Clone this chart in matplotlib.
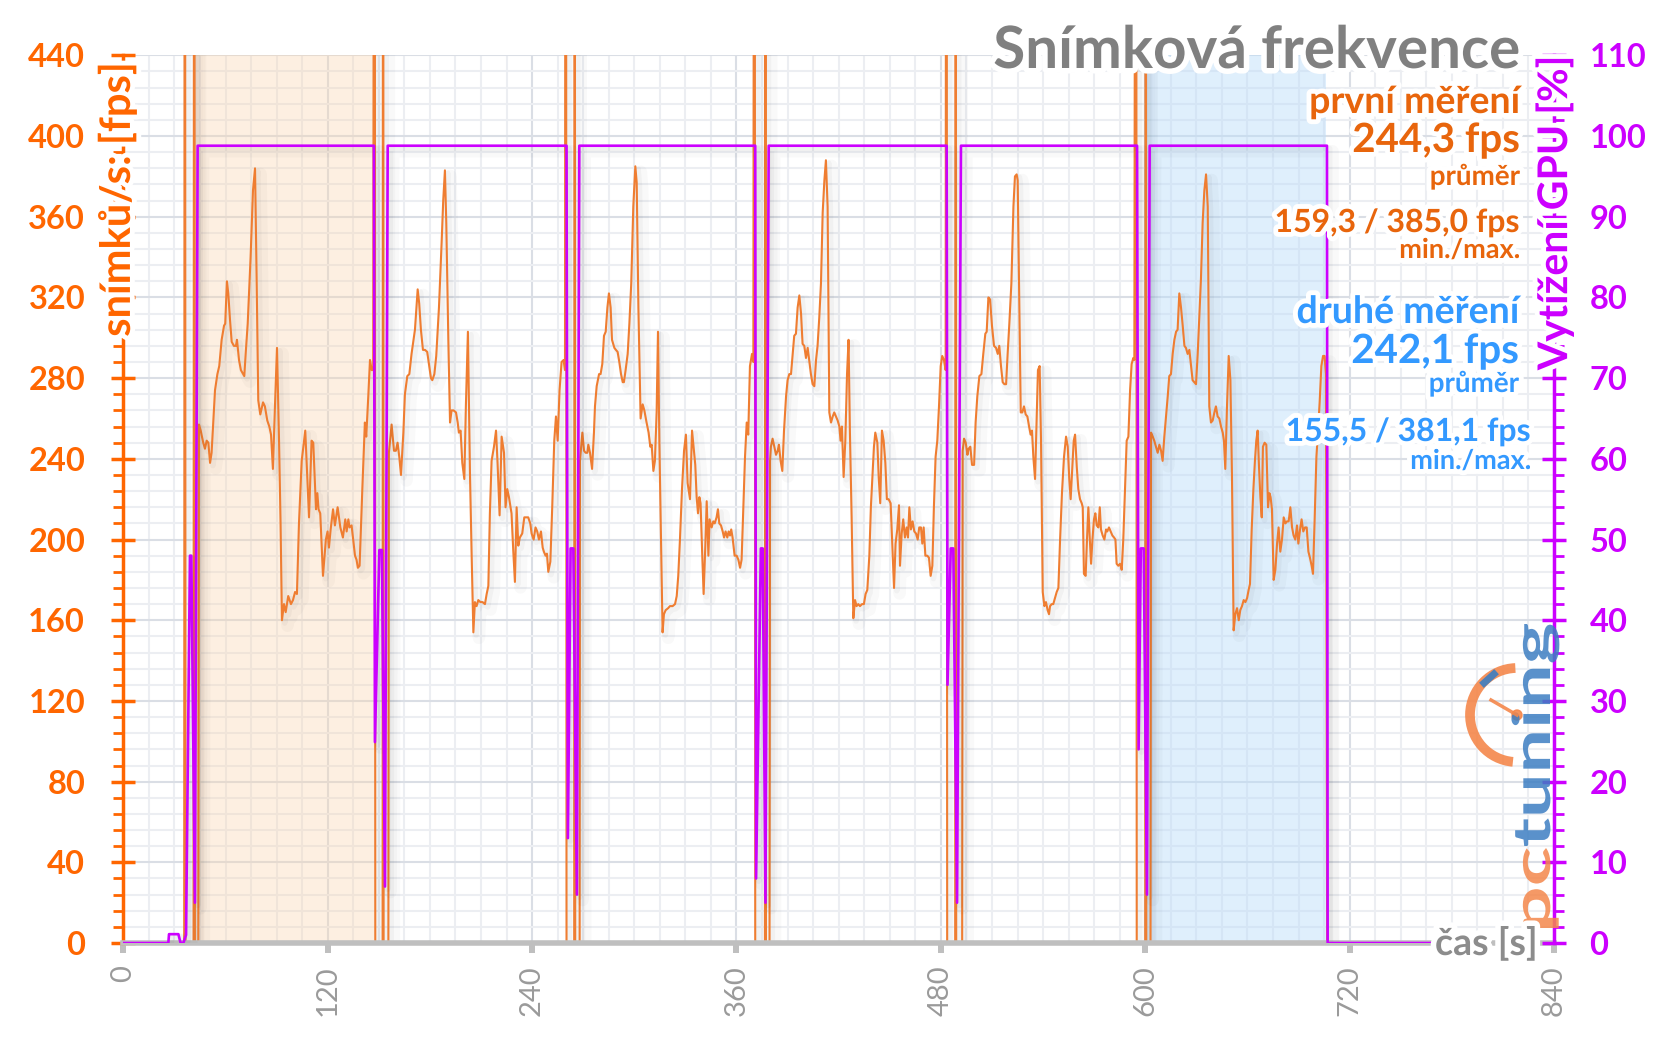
import matplotlib
matplotlib.use("Agg")
import matplotlib.pyplot as plt
import matplotlib.patheffects as pe
from matplotlib.patches import Arc, Circle, PathPatch
from matplotlib.textpath import TextPath
from matplotlib.font_manager import FontProperties
from matplotlib.transforms import Affine2D
from matplotlib.ticker import MultipleLocator
import numpy as np

plt.rcParams['font.family'] = ['Lato', 'DejaVu Sans']

# ---------------- data ----------------
# orange fps trace, split into load gaps and the six benchmark passes (time [s], fps)
gap0 = [(0, 0), (35.7, 0), (36.1, 900), (36.5, 0), (41.2, 0), (41.6, 900), (42.0, 0), (44.0, 0)]
run1 = [(44.4, 257), (45.4, 254), (46.9, 248), (47.9, 245), (48.9, 249), (49.9, 248), (50.9, 238), (51.8, 243),
        (53.8, 274), (55.2, 282), (56.3, 286), (57.7, 299), (59.1, 306), (59.8, 307), (60.8, 328), (61.6, 322),
        (62.6, 309), (63.6, 298), (64.9, 296), (66.1, 296), (66.7, 299), (67.9, 289), (69.0, 284), (71.0, 281),
        (71.8, 292), (73.0, 307), (74.7, 340), (76.1, 373), (77.3, 384), (78.2, 332), (79.2, 269), (80.4, 262),
        (82.0, 268), (83.1, 266), (84.5, 259), (85.7, 256), (86.7, 252), (87.8, 235), (89.0, 266), (90.2, 295),
        (91.4, 249), (92.3, 208), (93.1, 160), (94.3, 168), (95.3, 164), (96.8, 172), (98.4, 168), (99.6, 170),
        (100.8, 174), (101.9, 173), (103.1, 208), (104.7, 239), (106.8, 254), (109.0, 211), (110.5, 249),
        (111.5, 248), (113.1, 215), (113.9, 223), (114.6, 215), (115.6, 213), (117.2, 182), (118.9, 200),
        (119.9, 204), (120.7, 196), (121.7, 205), (123.1, 215), (124.2, 207), (125.8, 216), (127.4, 206),
        (128.9, 201), (130.3, 210), (131.1, 204), (132.1, 210), (132.8, 206), (134.0, 207), (136.0, 192),
        (136.9, 190), (137.7, 186), (138.7, 187), (140.3, 225), (141.8, 258), (142.6, 251), (143.8, 271),
        (144.8, 289), (145.8, 284), (146.7, 284)]
gap1 = [(147.5, 900), (147.9, 0), (152.2, 0), (152.5, 900), (152.8, 0), (155.6, 0)]
run2 = [(155.9, 243), (157.5, 257), (158.9, 244), (160.0, 244), (161.0, 248), (162.0, 241), (163.0, 232),
        (164.4, 253), (165.3, 272), (166.7, 281), (167.9, 282), (169.2, 292), (170.2, 298), (171.2, 304),
        (172.8, 324), (173.7, 317), (174.7, 304), (175.9, 294), (177.1, 294), (178.4, 293), (179.6, 286),
        (180.6, 280), (181.4, 279), (182.6, 282), (183.7, 291), (185.3, 315), (186.9, 348), (187.8, 368),
        (188.8, 383), (189.6, 357), (190.8, 299), (191.8, 258), (192.7, 264), (193.9, 264), (195.3, 263),
        (196.3, 258), (197.0, 253), (198.0, 254), (199.0, 238), (200.2, 230), (201.1, 266), (202.3, 303),
        (203.5, 233), (204.5, 192), (205.5, 154), (206.4, 169), (207.4, 167), (208.4, 170), (209.6, 169),
        (210.9, 169), (212.3, 168), (213.3, 173), (214.3, 177), (215.2, 213), (216.2, 239), (217.6, 246),
        (218.8, 254), (219.7, 238), (220.9, 212), (222.1, 251), (223.5, 243), (224.4, 216), (225.4, 225),
        (226.4, 221), (227.9, 213), (228.9, 195), (229.9, 179), (230.9, 216), (231.9, 197), (232.8, 201),
        (234.2, 203), (235.4, 211), (236.8, 211), (237.7, 211), (238.9, 208), (239.7, 203), (240.9, 200),
        (242.0, 206), (243.0, 204), (244.0, 200), (245.2, 204), (246.2, 196), (246.9, 194), (247.9, 192),
        (248.7, 193), (249.5, 184), (250.7, 189), (251.8, 216), (253.0, 249), (254.0, 261), (255.0, 249),
        (256.1, 274), (257.3, 288), (258.5, 289), (259.3, 284)]
gap2 = [(259.8, 900), (260.2, 0), (264.7, 0), (265.0, 900), (265.3, 0), (267.9, 0)]
run3 = [(268.1, 239), (269.5, 253), (270.5, 244), (271.4, 243), (272.4, 243), (273.0, 247), (274.0, 243),
        (275.2, 235), (276.3, 253), (276.9, 266), (277.9, 276), (279.3, 282), (280.2, 282), (281.2, 287),
        (282.2, 301), (283.2, 303), (284.2, 315), (285.1, 322), (286.1, 315), (286.9, 299), (288.3, 295),
        (289.2, 294), (290.2, 293), (291.2, 288), (292.2, 282), (293.2, 278), (293.9, 278), (294.9, 284),
        (296.1, 292), (297.1, 307), (298.2, 327), (299.4, 365), (300.6, 385), (301.4, 377), (302.4, 315),
        (303.7, 260), (304.9, 267), (305.9, 264), (307.2, 258), (308.4, 253), (309.4, 246), (310.2, 247),
        (311.2, 234), (312.1, 239), (313.1, 263), (313.9, 303), (314.7, 249), (315.7, 200), (316.6, 154),
        (317.4, 163), (318.4, 165), (319.9, 166), (320.9, 167), (322.5, 167), (323.9, 168), (324.9, 172),
        (325.8, 182), (326.8, 200), (328.0, 225), (329.2, 244), (330.3, 252), (331.3, 228), (332.7, 220),
        (333.9, 254), (334.8, 246), (335.8, 237), (336.6, 221), (337.4, 213), (338.2, 221), (338.9, 218),
        (339.9, 192), (340.7, 173), (341.7, 197), (342.5, 219), (343.5, 192), (344.2, 210), (345.4, 206),
        (346.4, 209), (347.2, 208), (348.3, 211), (349.1, 215), (349.9, 208), (350.9, 207), (351.9, 204),
        (352.7, 201), (353.6, 204), (354.6, 201), (355.4, 204), (356.2, 202), (356.9, 205), (357.7, 201),
        (358.9, 192), (360.1, 192), (361.1, 190), (362.1, 186), (363.0, 190), (364.0, 216), (365.0, 241),
        (366.0, 258), (366.9, 252), (367.9, 286), (369.1, 292), (369.9, 288)]
gap3 = [(370.6, 900), (371.0, 0), (376.7, 0), (377.0, 900), (377.3, 0), (379.4, 0)]
run4 = [(379.7, 239), (380.2, 246), (381.2, 250), (382.2, 246), (383.2, 242), (384.2, 244), (384.9, 247),
        (385.9, 239), (386.9, 234), (387.9, 254), (389.1, 271), (390.0, 279), (391.0, 282), (392.0, 282),
        (393.0, 292), (393.9, 301), (394.9, 302), (395.9, 315), (396.9, 321), (397.9, 312), (398.8, 297),
        (399.8, 296), (400.8, 290), (401.8, 295), (402.7, 289), (403.7, 282), (404.7, 277), (405.7, 276),
        (406.7, 289), (407.6, 296), (408.6, 310), (409.6, 327), (410.6, 362), (411.6, 378), (412.5, 388),
        (413.5, 365), (414.5, 263), (415.5, 258), (416.5, 261), (417.4, 263), (418.4, 261), (419.4, 259),
        (420.4, 256), (421.1, 249), (421.9, 256), (422.9, 231), (423.9, 249), (424.9, 282), (425.8, 299),
        (426.6, 253), (427.6, 211), (428.6, 161), (429.6, 170), (430.5, 167), (431.5, 168), (432.5, 167),
        (433.7, 168), (434.8, 168), (435.8, 173), (436.8, 175), (438.0, 192), (438.9, 216), (439.9, 233),
        (440.7, 246), (441.5, 253), (442.7, 248), (443.5, 231), (444.4, 218), (445.4, 254), (446.4, 249),
        (447.4, 238), (448.3, 220), (449.3, 220), (450.5, 218), (451.5, 197), (452.5, 176), (453.4, 198),
        (454.4, 205), (455.4, 217), (456.0, 187), (457.0, 203), (457.9, 210), (458.9, 201), (459.9, 206),
        (460.7, 201), (461.5, 216), (462.4, 205), (463.4, 209), (464.4, 204), (465.4, 203), (466.4, 200),
        (467.3, 206), (468.3, 206), (469.1, 198), (469.9, 206), (470.9, 192), (472.0, 192), (473.0, 191),
        (474.0, 182), (475.0, 187), (475.9, 216), (476.9, 241), (477.9, 249), (478.9, 266), (479.9, 286),
        (480.8, 291), (481.8, 289), (482.8, 284)]
gap4 = [(483.3, 900), (483.7, 0), (488.4, 0), (488.7, 900), (489.0, 0), (492.5, 0)]
run5 = [(492.8, 244), (493.6, 250), (494.6, 248), (495.6, 242), (496.3, 245), (497.3, 246), (498.3, 237),
        (499.5, 237), (500.4, 258), (501.4, 271), (502.6, 281), (503.8, 282), (504.9, 292), (506.1, 302),
        (506.9, 303), (507.9, 320), (508.9, 319), (510.0, 306), (511.2, 296), (512.4, 295), (513.4, 292),
        (514.3, 296), (515.3, 286), (516.3, 278), (517.3, 277), (518.3, 277), (519.2, 292), (520.2, 307),
        (521.4, 327), (522.6, 365), (523.5, 380), (524.5, 381), (525.1, 378), (526.1, 315), (526.9, 263),
        (527.8, 263), (528.8, 266), (529.8, 262), (530.8, 261), (531.8, 256), (532.7, 252), (533.5, 254),
        (534.3, 241), (535.3, 230), (536.3, 263), (537.0, 284), (538.0, 286), (538.8, 249), (539.8, 174),
        (540.8, 167), (541.7, 169), (542.7, 165), (543.5, 163), (544.1, 167), (545.1, 168), (546.0, 168),
        (547.0, 171), (548.0, 174), (549.0, 176), (550.0, 200), (551.1, 223), (552.3, 241), (553.5, 251),
        (554.5, 246), (555.4, 230), (556.2, 220), (557.2, 236), (558.0, 249), (558.8, 252), (559.8, 236),
        (560.7, 225), (561.7, 220), (562.7, 218), (563.3, 216), (564.0, 183), (565.0, 182), (565.8, 200),
        (566.6, 216), (567.4, 201), (568.2, 188), (569.0, 200), (569.9, 210), (570.7, 213), (571.5, 207),
        (572.5, 206), (573.3, 216), (574.0, 205), (575.0, 202), (576.0, 200), (577.0, 205), (577.7, 204),
        (578.7, 206), (579.7, 204), (580.7, 202), (581.7, 201), (582.5, 200), (583.2, 188), (584.2, 187),
        (585.2, 188), (586.2, 185), (587.1, 200), (588.1, 225), (589.1, 249), (590.1, 251), (591.1, 274),
        (592.0, 287), (593.0, 290), (593.6, 289)]
gap5 = [(594.6, 900), (595.0, 0), (600.0, 0), (600.3, 900), (600.6, 0), (603.1, 0)]
run6 = [(603.4, 253), (604.4, 251), (605.3, 249), (606.3, 246), (607.3, 243), (608.3, 247), (609.3, 244),
        (610.2, 239), (611.2, 251), (612.2, 261), (613.2, 271), (614.1, 281), (615.1, 282), (616.1, 292),
        (617.1, 299), (618.1, 303), (619.0, 304), (620.0, 322), (621.0, 315), (622.0, 306), (623.0, 296),
        (623.9, 295), (624.9, 292), (625.9, 294), (626.9, 286), (627.8, 279), (628.8, 278), (629.8, 277),
        (630.8, 292), (631.8, 312), (632.7, 329), (633.7, 357), (634.7, 373), (635.7, 381), (636.7, 365),
        (637.6, 266), (638.6, 258), (639.6, 259), (640.6, 263), (641.5, 266), (642.5, 261), (643.5, 260),
        (644.5, 256), (645.5, 253), (646.2, 249), (647.0, 235), (648.0, 266), (649.0, 291), (650.0, 279),
        (650.9, 233), (651.9, 155), (652.9, 163), (653.9, 166), (654.9, 160), (655.8, 165), (656.8, 167),
        (657.8, 170), (658.8, 169), (659.8, 171), (660.7, 175), (661.5, 178), (662.5, 205), (663.5, 225),
        (664.4, 239), (665.2, 249), (666.0, 254), (666.8, 236), (667.6, 221), (668.4, 211), (669.1, 246),
        (670.1, 248), (671.1, 247), (672.1, 216), (672.9, 223), (673.6, 221), (674.4, 215), (675.4, 180),
        (676.4, 185), (677.4, 198), (678.3, 206), (679.3, 194), (680.3, 200), (681.3, 211), (682.3, 208),
        (683.2, 209), (684.2, 209), (685.2, 216), (686.2, 206), (687.1, 202), (688.1, 200), (689.1, 207),
        (689.9, 198), (690.9, 205), (691.8, 210), (692.8, 204), (693.8, 206), (694.8, 206), (695.8, 194),
        (696.7, 191), (697.7, 187), (698.5, 183), (699.5, 211), (700.5, 241), (701.4, 253), (702.4, 268),
        (703.4, 286), (704.4, 291), (705.3, 291), (706.1, 282)]
tail = [(706.8, 0), (775, 0)]

# purple GPU load trace (time [s], %)
gpu = [(0, 0), (26.4, 0), (26.8, 1.1), (32.3, 1.1), (33.6, 0), (35.2, 0), (36.8, 1.0), (39.1, 48.0),
       (39.9, 48.0), (42.0, 5.0), (43.6, 98.8),
       (147.1, 98.8), (147.7, 24.9), (150.3, 48.7), (151.8, 48.7), (153.6, 7.0), (155.2, 98.8),
       (260.2, 98.8), (261.0, 13.0), (262.6, 48.9), (264.2, 48.9), (266.3, 6.0), (267.7, 98.8),
       (371.0, 98.8), (371.5, 8.0), (374.3, 48.9), (375.4, 48.9), (377.0, 5.0), (378.9, 98.8),
       (483.4, 98.8), (483.9, 32.0), (485.8, 48.9), (487.3, 48.9), (489.5, 5.0), (491.8, 98.8),
       (595.2, 98.8), (596.1, 24.0), (597.4, 48.9), (599.1, 48.9), (601.0, 6.0), (602.6, 98.8),
       (706.7, 98.8), (707.1, 0), (775, 0)]

# measured intervals (shaded)
first_span = (40.8, 147.3)
second_span = (599.5, 706.0)

title = 'Snímková frekvence'
first_lines = ['první měření', '244,3 fps', 'průměr', '159,3 / 385,0 fps', 'min./max.']
second_lines = ['druhé měření', '242,1 fps', 'průměr', '155,5 / 381,1 fps', 'min./max.']

fps_pts = np.array(gap0 + run1 + gap1 + run2 + gap2 + run3 + gap3 + run4 + gap4 + run5 + gap5 + run6 + tail)
gpu_pts = np.array(gpu)

ORANGE = '#ff6600'
LINE_OR = '#ef7d31'
PURPLE = '#cc00ff'
BLUE = '#3399ff'
TXT_OR = '#e8650c'

# ---------------- figure ----------------
fig = plt.figure(figsize=(16.56, 10.44), dpi=100)
ax = fig.add_axes([0.0745, 0.0967, 0.8639, 0.8503])
ax2 = ax.twinx()

ax.set_xlim(0, 840)
ax.set_ylim(0, 440)
ax2.set_ylim(0, 110)

ax.xaxis.set_major_locator(MultipleLocator(120))
ax.xaxis.set_minor_locator(MultipleLocator(15))
ax.yaxis.set_major_locator(MultipleLocator(40))
ax.yaxis.set_minor_locator(MultipleLocator(8))
ax2.yaxis.set_major_locator(MultipleLocator(10))
ax2.yaxis.set_minor_locator(MultipleLocator(2))

ax.set_axisbelow(True)
ax.grid(which='major', color='#dadee5', lw=1.5)
ax.grid(which='minor', color='#eceef2', lw=1.5)

ax.axvspan(*first_span, facecolor='#fad3ab', alpha=0.35, lw=0, zorder=1)
ax.axvspan(*second_span, facecolor='#b9dcfa', alpha=0.45, lw=0, zorder=1)
# soft inner shadow on the left edge of both bands
for span, col in [(first_span, '#c8a888'), (second_span, '#8fb0cc')]:
    for k in range(6):
        ax.axvspan(span[0], span[0] + 1.2 * (k + 1), facecolor=col, alpha=0.035, lw=0, zorder=1)

shadow = [pe.SimpleLineShadow(offset=(4, -4), shadow_color='black', alpha=0.025, linewidth=9),
          pe.SimpleLineShadow(offset=(2, -2), shadow_color='black', alpha=0.03, linewidth=4),
          pe.Normal()]
ax.plot(fps_pts[:, 0], fps_pts[:, 1], color=LINE_OR, lw=1.5, zorder=3, path_effects=shadow)
ax2.plot(gpu_pts[:, 0], gpu_pts[:, 1], color=PURPLE, lw=1.9, zorder=3, path_effects=shadow)

# spines
for s in ['top', 'right']:
    ax.spines[s].set_visible(False)
for s in ['top', 'left', 'bottom']:
    ax2.spines[s].set_visible(False)
ax.spines['left'].set_color(ORANGE)
ax.spines['left'].set_linewidth(2.5)
ax.spines['bottom'].set_color('#bfbfbf')
ax.spines['bottom'].set_linewidth(4)
ax.spines['bottom'].set_zorder(4)
ax2.spines['right'].set_color(PURPLE)
ax2.spines['right'].set_linewidth(2.5)

# ticks
ax.tick_params(axis='y', which='major', direction='inout', length=17, width=2.5, color=ORANGE,
               labelcolor=ORANGE, labelsize=23.5, pad=19)
ax.tick_params(axis='y', which='minor', direction='out', length=7, width=2, color=ORANGE)
ax.tick_params(axis='x', which='major', direction='out', length=7, width=4.3, color='#bfbfbf',
               labelcolor='#9a9a9a', labelsize=21, labelrotation=90, pad=9)
ax.tick_params(axis='x', which='minor', length=0)
ax2.tick_params(axis='y', which='major', direction='inout', length=17, width=2.5, color=PURPLE,
                labelcolor=PURPLE, labelsize=23.5, pad=17)
ax2.tick_params(axis='y', which='minor', direction='out', length=7, width=2, color=PURPLE)
for lab in ax.get_yticklabels() + ax2.get_yticklabels():
    lab.set_fontweight('bold')

glow = [pe.withStroke(linewidth=7, foreground='white')]
ax.text(-0.0045, 0.992, 'snímků/s: [fps]', transform=ax.transAxes, rotation=90, ha='center', va='top',
        fontsize=30, fontweight='bold', color=ORANGE, path_effects=glow, zorder=10, clip_on=False)
ax2.text(1.0005, 1.0, 'Vytížení GPU [%]', transform=ax2.transAxes, rotation=90, ha='center', va='top',
         fontsize=29.5, fontweight='bold', color=PURPLE, path_effects=glow, zorder=10, clip_on=False)

# ---------------- overlay in pixel coordinates ----------------
ov = fig.add_axes([0, 0, 1, 1])
ov.set_xlim(0, 1656)
ov.set_ylim(1044, 0)
ov.axis('off')

ov.text(1521, 68, title, ha='right', va='baseline', fontsize=42, fontweight='bold', color='#808080',
        path_effects=[pe.withStroke(linewidth=8, foreground='white')])

sizes = [27, 29, 20, 23, 19.5]
base1 = [113, 152, 185, 232, 258]
base2 = [323, 363, 392, 441, 469]
right2 = [1519, 1519, 1519, 1531, 1531]
for txt, fs, y in zip(first_lines, sizes, base1):
    ov.text(1520, y, txt, ha='right', va='baseline', fontsize=fs, fontweight='bold', color=TXT_OR,
            path_effects=glow)
for txt, fs, y, x in zip(second_lines, sizes, base2, right2):
    ov.text(x, y, txt, ha='right', va='baseline', fontsize=fs, fontweight='bold', color=BLUE,
            path_effects=glow)

# logo: clock + "pc" "tuning" written bottom-to-top, stretched to the logo box
logo_or = '#f4874b'
logo_bl = '#3d7ec2'
ov.add_patch(Arc((1517, 715), 94, 94, theta1=95, theta2=268, color=logo_or, lw=7, alpha=0.9))
ov.plot([1517, 1491], [715, 700], color=logo_or, lw=2.5, alpha=0.9)
ov.add_patch(Circle((1517, 715), 5, color=logo_or, alpha=0.9))
ov.plot([1484, 1494], [683, 674], color=logo_bl, lw=5, alpha=0.9)

logo_font = FontProperties(family='Lato', weight='bold')
for word, col, y_start, length in [('pc', logo_or, 928, 80), ('tuning', logo_bl, 846, 222)]:
    tp = TextPath((0, 0), word, size=1, prop=logo_font)
    ext = tp.get_extents()
    sl = length / ext.width
    sh = 52
    # path x (reading direction) -> screen up, path y (glyph up) -> screen left
    tr = Affine2D.from_values(0, -sl, -sh, 0, 1550, y_start + ext.x0 * sl)
    ov.add_patch(PathPatch(tr.transform_path(tp), facecolor=col, edgecolor='none', alpha=0.85))

ov.text(1538, 943, 'čas [s]', ha='right', va='center', fontsize=27, fontweight='bold', color='#8c8c8c',
        path_effects=[pe.withStroke(linewidth=8, foreground='white')])

fig.savefig('out.png', dpi=100)
